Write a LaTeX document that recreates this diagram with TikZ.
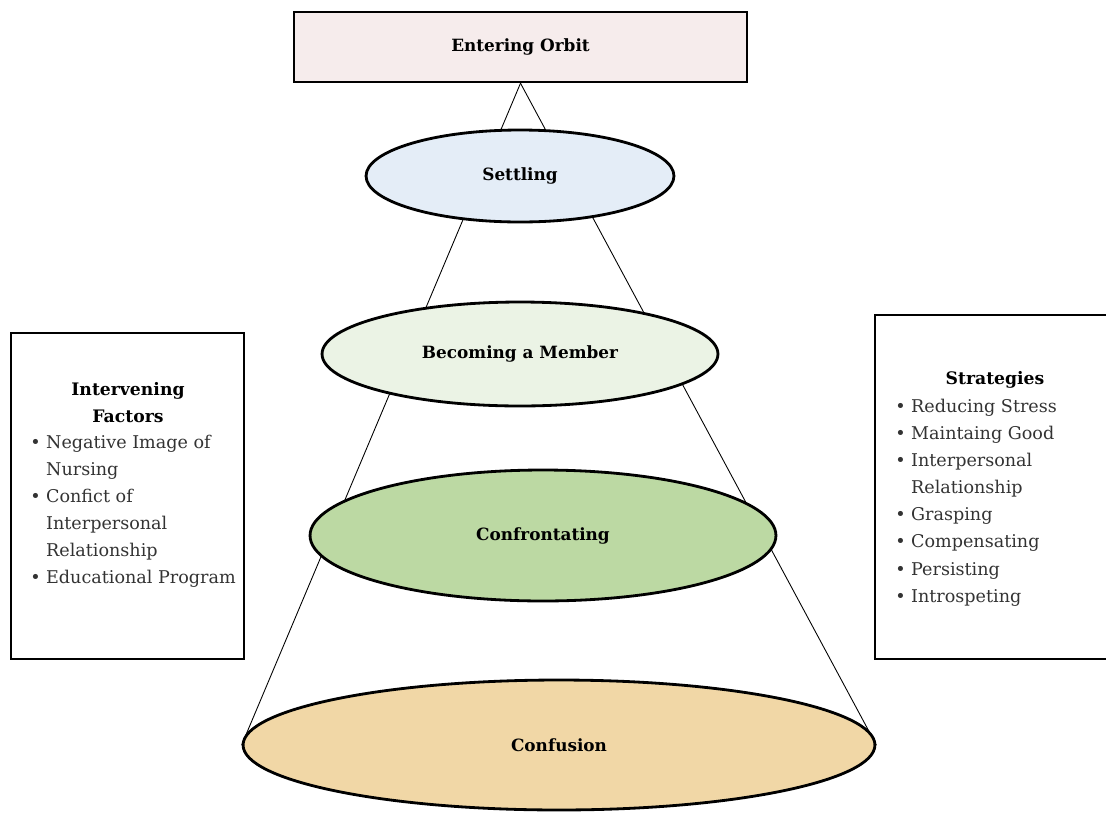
\documentclass[tikz,border=0pt]{standalone}
\usepackage{fontspec}
\setmainfont{DejaVu Serif}
\usetikzlibrary{shapes.geometric,backgrounds}

\definecolor{orbitfill}{HTML}{F6ECEC}
\definecolor{settlefill}{HTML}{E4EDF7}
\definecolor{memberfill}{HTML}{EBF3E5}
\definecolor{confrontfill}{HTML}{BCD9A3}
\definecolor{confusefill}{HTML}{F1D7A6}

\newcommand{\bul}{\makebox[9pt][l]{\textbullet}}
\newcommand{\ind}{\hspace*{9pt}}

\tikzset{
  stage/.style={ellipse,draw,line width=1.6pt,inner sep=0pt,font=\fontsize{9.6}{12}\bfseries},
  sidebox/.style={draw,line width=1.4pt,inner sep=0pt},
  sidetitle/.style={inner sep=0pt,align=center,font=\fontsize{9.8}{15.4}\selectfont\bfseries},
  sidelist/.style={inner sep=0pt,align=left,text=black!80,font=\fontsize{10}{15.4}\selectfont},
}

\begin{document}
\begin{tikzpicture}[x=0.02cm,y=-0.02cm]
\useasboundingbox (0,0) rectangle (1106,812);
\clip (0,0) rectangle (1106,812);

% Top box
\node[sidebox,fill=orbitfill,minimum width=9.06cm,minimum height=1.4cm,font=\fontsize{9.6}{12}\bfseries] (orbit) at (520.5,47) {Entering Orbit};

% Stages
\node[stage,fill=settlefill,minimum width=6.16cm,minimum height=1.84cm] (settling) at (520,176) {Settling};
\node[stage,fill=memberfill,minimum width=7.92cm,minimum height=2.08cm] (member) at (520,354) {Becoming a Member};
\node[stage,fill=confrontfill,minimum width=9.32cm,minimum height=2.62cm] (confront) at (543,535.5) {Confrontating};
\node[stage,fill=confusefill,minimum width=12.64cm,minimum height=2.6cm] (confusion) at (559,745) {Confusion};

% Cone lines
\begin{pgfonlayer}{background}
\draw[line width=0.5pt] (orbit.south) -- (confusion.west);
\draw[line width=0.5pt] (orbit.south) -- (confusion.east);
\end{pgfonlayer}

% Intervening factors
\node[sidebox,minimum width=4.66cm,minimum height=6.52cm] (intbox) at (127.5,496) {};
\node[sidetitle] (inttitle) at (128,403) {Intervening\\Factors};
\node[sidelist,anchor=north west] (intlist) at (30,435) {\bul Negative Image of\\
\ind Nursing\\
\bul Confict of\\
\ind Interpersonal\\
\ind Relationship\\
\bul Educational Program};

% Strategies
\node[sidebox,minimum width=4.8cm,minimum height=6.88cm] (stratbox) at (995,487) {};
\node[sidetitle] (strattitle) at (995,380) {Strategies};
\node[sidelist,anchor=north west] (stratlist) at (895,399) {\bul Reducing Stress\\
\bul Maintaing Good\\
\bul Interpersonal\\
\ind Relationship\\
\bul Grasping\\
\bul Compensating\\
\bul Persisting\\
\bul Introspeting};
\end{tikzpicture}
\end{document}
